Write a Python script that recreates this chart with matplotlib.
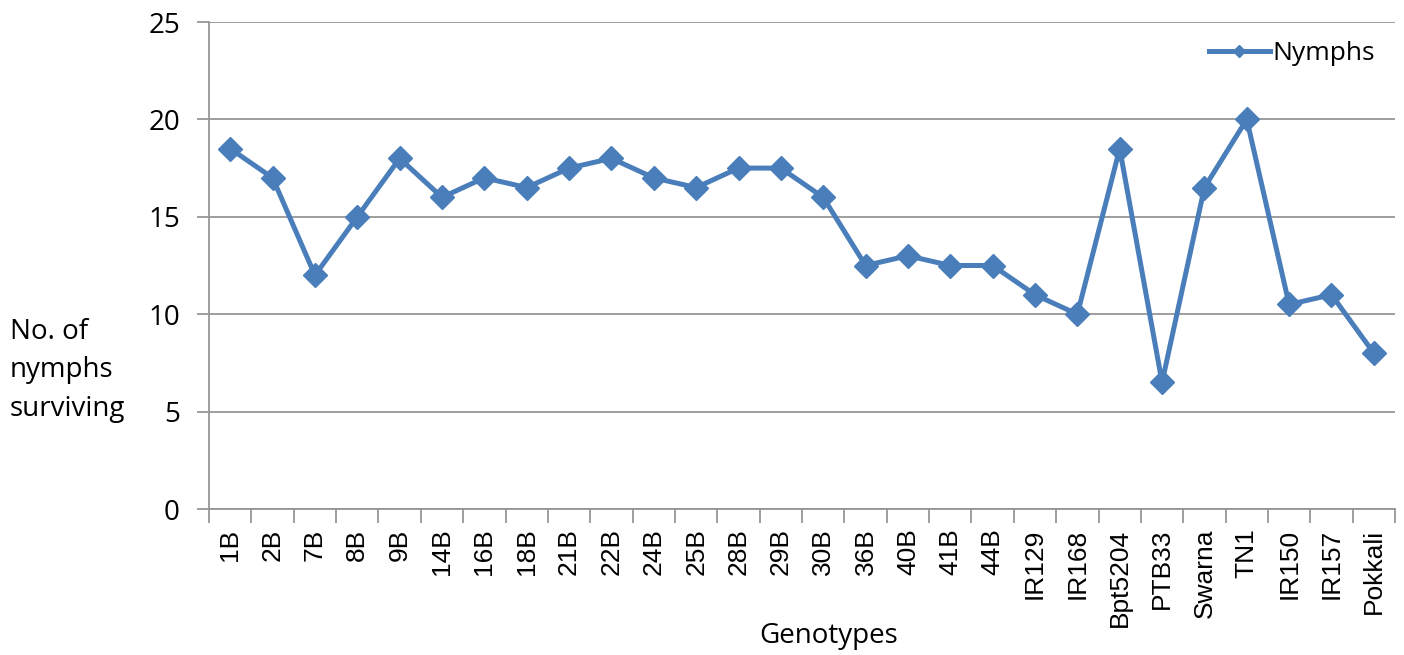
import matplotlib
matplotlib.use("Agg")
import matplotlib.pyplot as plt

# Genotypes and number of nymphs surviving on each
genotypes = ["1B", "2B", "7B", "8B", "9B", "14B", "16B", "18B", "21B", "22B",
             "24B", "25B", "28B", "29B", "30B", "36B", "40B", "41B", "44B",
             "IR129", "IR168", "Bpt5204", "PTB33", "Swarna", "TN1", "IR150",
             "IR157", "Pokkali"]
nymphs = [18.5, 17, 12, 15, 18, 16, 17, 16.5, 17.5, 18,
          17, 16.5, 17.5, 17.5, 16, 12.5, 13, 12.5, 12.5,
          11, 10, 18.5, 6.5, 16.5, 20, 10.5,
          11, 8]
yticks = [0, 5, 10, 15, 20, 25]

blue = "#4a7ebb"
grey = "#969696"

fig = plt.figure(figsize=(14.04, 6.55), dpi=100)
ax = fig.add_axes([0.1489, 0.2229, 0.8447, 0.7435])

x = list(range(len(genotypes)))
ax.plot(x, nymphs, color=blue, lw=3.6, marker="D", markersize=12,
        label="Nymphs", zorder=3)

ax.set_xlim(-0.5, len(genotypes) - 0.5)
ax.set_ylim(0, 25)
ax.set_yticks(yticks)
ax.set_yticklabels([str(v) for v in yticks], fontfamily="Open Sans", fontsize=20)
ax.yaxis.grid(True, color=grey, lw=1.3)
ax.set_axisbelow(True)

# category labels centred, tick marks on the boundaries
ax.set_xticks(x)
ax.set_xticklabels(genotypes, rotation=90, fontfamily="Liberation Sans", fontsize=19)
ax.tick_params(axis="x", length=0, pad=14)
ax.set_xticks([i - 0.5 for i in range(len(genotypes) + 1)], minor=True)
ax.tick_params(axis="x", which="minor", length=10, width=1.3, color=grey)
ax.tick_params(axis="y", length=9, width=1.3, color=grey, pad=12)

for s in ["top", "right"]:
    ax.spines[s].set_visible(False)
for s in ["left", "bottom"]:
    ax.spines[s].set_color(grey)
    ax.spines[s].set_linewidth(1.3)

fig.text(0.007, 0.435, "No. of\nnymphs\nsurviving", fontfamily="Open Sans",
         fontsize=20, ha="left", va="center", linespacing=1.5)
fig.text(0.59, 0.008, "Genotypes", fontfamily="Open Sans", fontsize=20,
         ha="center", va="bottom")

ax.legend(loc="upper right", frameon=False, prop={"family": "Open Sans", "size": 19},
          handlelength=2.3, handletextpad=0.1, markerscale=0.55,
          bbox_to_anchor=(1.003, 1.01))

fig.savefig("out.png", dpi=100)
